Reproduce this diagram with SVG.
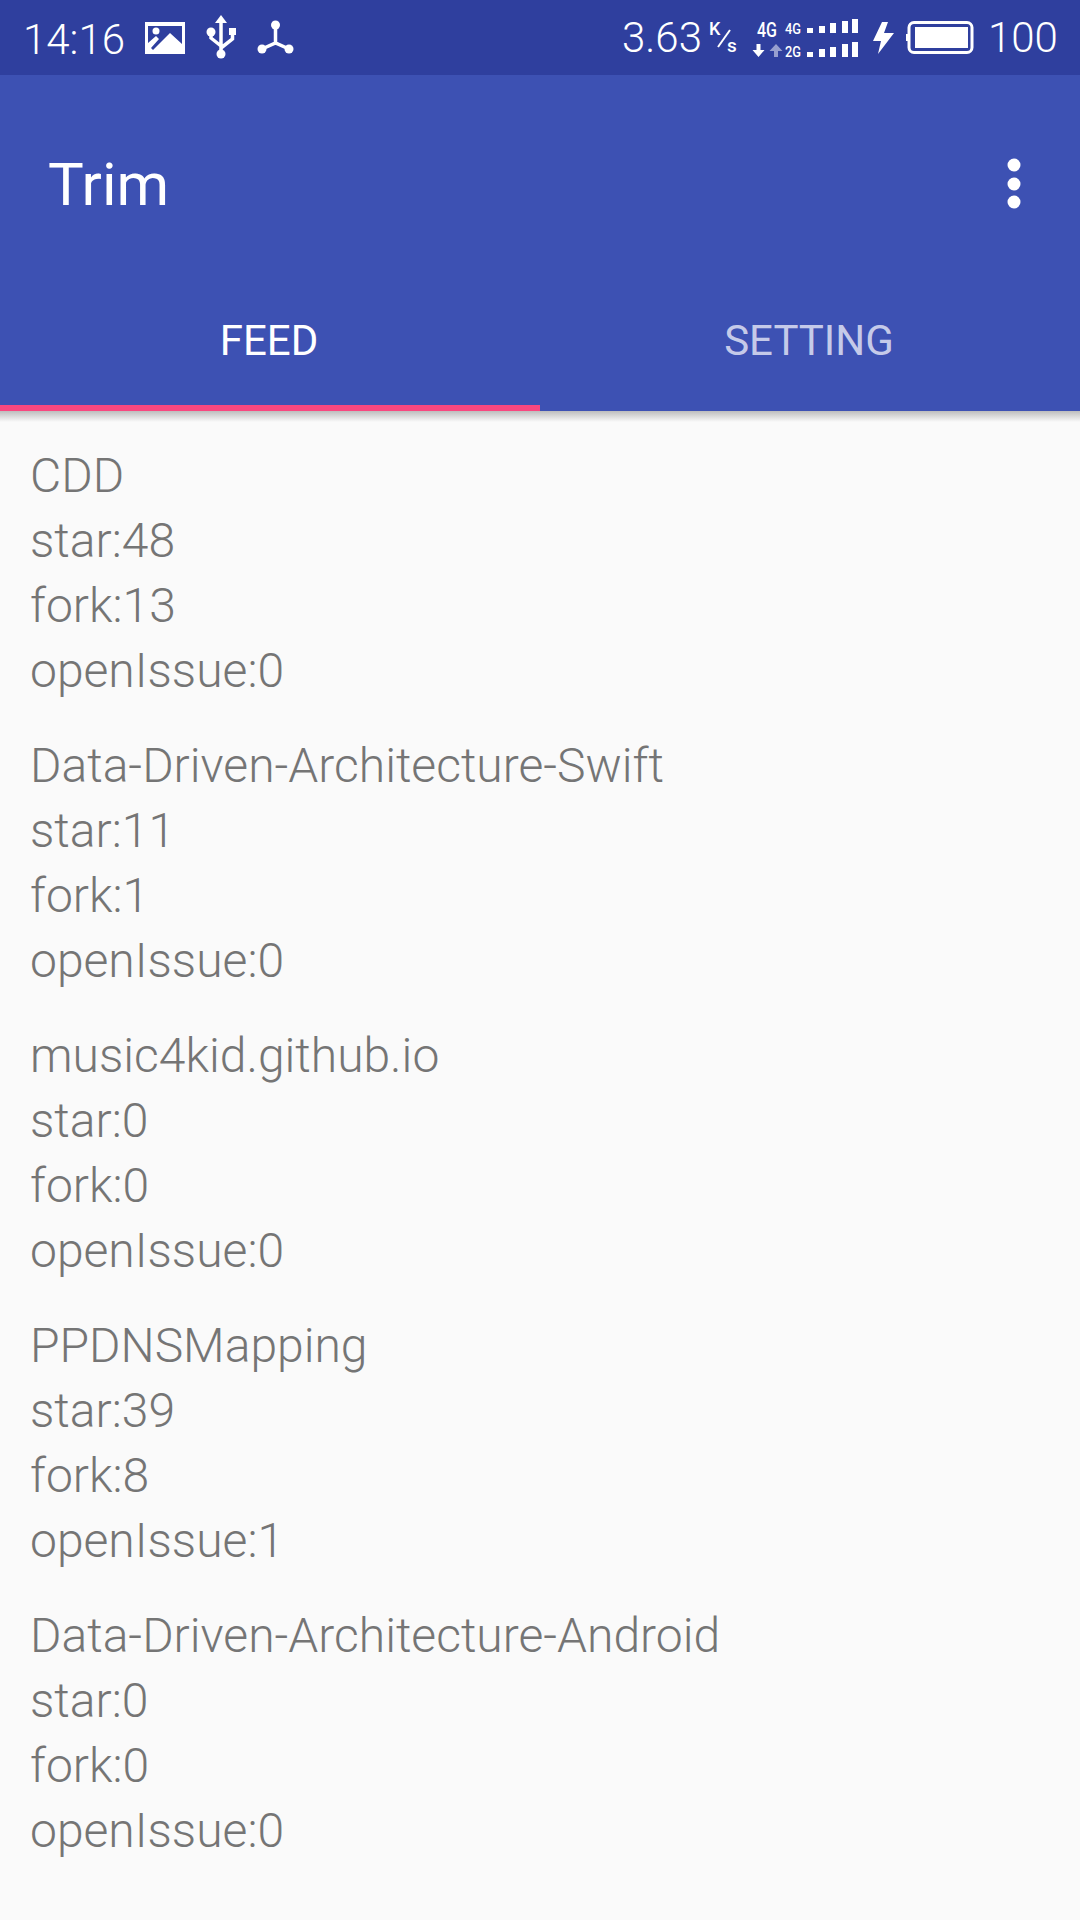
<svg xmlns="http://www.w3.org/2000/svg" width="1080" height="1920" viewBox="0 0 1080 1920">
<defs>
<linearGradient id="sh" x1="0" y1="0" x2="0" y2="1"><stop offset="0" stop-color="#bdbdbd"/><stop offset="1" stop-color="#fafafa"/></linearGradient>
</defs>
<style>
.t{font-family:"Roboto","Liberation Sans",sans-serif;font-weight:300;font-size:48px;fill:#757575}
.s{font-family:"Roboto","Liberation Sans",sans-serif;font-weight:300;font-size:42px;fill:#fff}
.tab{font-family:"Roboto","Liberation Sans",sans-serif;font-weight:400;font-size:42px}
.m{font-family:"Roboto","Liberation Sans",sans-serif;font-weight:500;fill:#fff}
.w{fill:#fff}
.l{fill:none;stroke:#fff;stroke-width:3.500}
</style>
<rect width="1080" height="1920" fill="#fafafa"/>
<rect width="1080" height="75" fill="#2f3f9e"/>
<rect y="75" width="1080" height="336" fill="#3d51b3"/>
<rect y="405" width="540" height="6" fill="#f8477f"/>
<rect y="411" width="1080" height="11" fill="url(#sh)"/>
<g id="status">
<text class="s" x="23" y="54">14:16</text>
<path class="w" d="M145 22h40v32h-40z"/>
<path d="M148 26h34v18l-12-11-17 17-2-2 8-9-3-3-8 7z" fill="#2f3f9e"/>
<circle cx="156" cy="31" r="3.500" class="w"/>
<g id="usb">
<path class="w" d="M221 15l6 8h-12z"/>
<path class="l" d="M221 22v31M211 32v6l10 8M232.500 32v7l-11.500 9"/>
<circle class="w" cx="221" cy="54" r="4.500"/>
<circle class="w" cx="211" cy="32" r="4.500"/>
<rect class="w" x="229" y="28" width="7" height="7"/>
</g>
<g id="net">
<path class="l" d="M275.500 25v18M262 49l13.500-6 13.500 6"/>
<circle class="w" cx="275.500" cy="25" r="4.500"/><circle class="w" cx="262" cy="49" r="4.500"/><circle class="w" cx="289" cy="49" r="4.500"/>
</g>
<text class="s" x="622" y="52">3.63</text>
<text class="m" x="709" y="35" font-size="18">K</text>
<path d="M730 30l-12 17" stroke="#fff" stroke-width="2" fill="none"/>
<text class="m" x="727" y="52" font-size="19">s</text>
<g id="signal" class="w">
<text class="m" x="757" y="37" font-size="21" textLength="20" lengthAdjust="spacingAndGlyphs">4G</text>
<text class="m" x="785" y="33.500" font-size="15" textLength="16" lengthAdjust="spacingAndGlyphs">4G</text>
<text class="m" x="785" y="57" font-size="15" textLength="16" lengthAdjust="spacingAndGlyphs">2G</text>
<path d="M756.500 44h4v6h4l-6 7-6-7h4z"/>
<path d="M774 57v-6h-4.500l6.500-7 6.500 7h-4.500v6z" fill-opacity=".5"/>
<path d="M807 28h6v5h-6zM819 26h6v7h-6zM830 23h6v10h-6zM842 21h6v12h-6zM852 19h6v14h-6z"/>
<path d="M807 52h6v5h-6zM819 49h6v8h-6zM830 47h6v10h-6zM842 44h6v13h-6zM852 42h6v15h-6z"/>
</g>
<path class="w" d="M882 22h6l-4 11h10l-16 21 3-13h-8z"/>
<rect x="909" y="22.500" width="63" height="30" rx="5" fill="none" stroke="#fff" stroke-width="3"/>
<rect x="915" y="27" width="53" height="21" class="w"/>
<rect x="906" y="34" width="2" height="7" class="w"/>
<text class="s" x="988" y="52">100</text>
</g>
<g id="appbar">
<text x="48" y="205" font-family="Roboto,'Liberation Sans',sans-serif" font-size="60" fill="#fff">Trim</text>
<circle cx="1014" cy="165" r="6.500" fill="#fff"/><circle cx="1014" cy="184" r="6.500" fill="#fff"/><circle cx="1014" cy="202" r="6.500" fill="#fff"/>
<text class="tab" x="269" y="355" fill="#fff" text-anchor="middle">FEED</text>
<text class="tab" x="809" y="355" fill="#c5cae9" text-anchor="middle">SETTING</text>
</g>
<g id="list">
<text class="t" x="30" y="492">CDD</text><text class="t" x="30" y="557">star:48</text><text class="t" x="30" y="622">fork:13</text><text class="t" x="30" y="687">openIssue:0</text>
<text class="t" x="30" y="782">Data-Driven-Architecture-Swift</text><text class="t" x="30" y="847">star:11</text><text class="t" x="30" y="912">fork:1</text><text class="t" x="30" y="977">openIssue:0</text>
<text class="t" x="30" y="1072">music4kid.github.io</text><text class="t" x="30" y="1137">star:0</text><text class="t" x="30" y="1202">fork:0</text><text class="t" x="30" y="1267">openIssue:0</text>
<text class="t" x="30" y="1362">PPDNSMapping</text><text class="t" x="30" y="1427">star:39</text><text class="t" x="30" y="1492">fork:8</text><text class="t" x="30" y="1557">openIssue:1</text>
<text class="t" x="30" y="1652">Data-Driven-Architecture-Android</text><text class="t" x="30" y="1717">star:0</text><text class="t" x="30" y="1782">fork:0</text><text class="t" x="30" y="1847">openIssue:0</text>
</g>
</svg>
